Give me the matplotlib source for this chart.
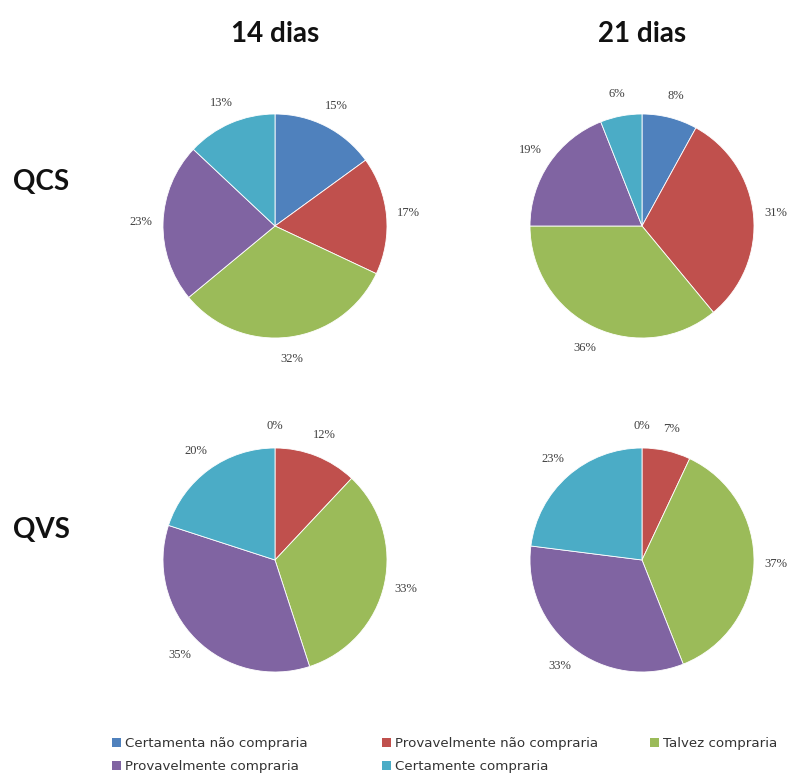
import matplotlib
matplotlib.use("Agg")
import matplotlib.pyplot as plt
from matplotlib.patches import Patch

# Purchase-intention categories and their colours
categories = ["Certamenta não compraria", "Provavelmente não compraria",
              "Talvez compraria", "Provavelmente compraria", "Certamente compraria"]
colors = ["#4F81BD", "#C0504D", "#9BBB59", "#8064A2", "#4BACC6"]

col_titles = ["14 dias", "21 dias"]
row_titles = ["QCS", "QVS"]

# Percent of responses per category
qcs_14 = [15, 17, 32, 23, 13]
qcs_21 = [8, 31, 36, 19, 6]
qvs_14 = [0, 12, 33, 35, 20]
qvs_21 = [0, 7, 37, 33, 23]

W, H = 807, 780
fig = plt.figure(figsize=(W / 100, H / 100), dpi=100)
fig.patch.set_facecolor("white")

R_PX = 112          # pie radius in pixels
LIM = 1.35          # axis half-range in pie-radius units
centers = {(0, 0): (275, 226), (0, 1): (642, 226),
           (1, 0): (275, 560), (1, 1): (642, 560)}
data = {(0, 0): qcs_14, (0, 1): qcs_21, (1, 0): qvs_14, (1, 1): qvs_21}

side = 2 * LIM * R_PX
for key, vals in data.items():
    cx, cy = centers[key]
    ax = fig.add_axes([(cx - side / 2) / W, 1 - (cy + side / 2) / H, side / W, side / H])
    wedges, texts = ax.pie(vals, colors=colors, startangle=90, counterclock=False,
                           labels=[f"{v}%" for v in vals], labeldistance=1.2,
                           wedgeprops=dict(linewidth=0.6, edgecolor="white"),
                           textprops=dict(fontsize=9, color="#404040",
                                          family="Liberation Serif"))
    for t in texts:
        t.set_horizontalalignment("center")
        t.set_verticalalignment("center")
    ax.set_xlim(-LIM, LIM)
    ax.set_ylim(-LIM, LIM)
    ax.set_aspect("equal")
    ax.axis("off")

# Column and row headings
for j, txt in enumerate(col_titles):
    fig.text(centers[(0, j)][0] / W, 1 - 34 / H, txt, ha="center", va="center",
             fontsize=20, fontweight="bold", family="Lato", color="#111111")
for i, (txt, y) in enumerate(zip(row_titles, [182, 530])):
    fig.text(41 / W, 1 - y / H, txt, ha="center", va="center",
             fontsize=20, fontweight="bold", family="Lato", color="#111111")

# Legend at the bottom: equal-width columns, filled row by row
legend_cols = [[0, 3], [1, 4], [2]]
col_x = [112, 382, 650]
for xs, idx in zip(col_x, legend_cols):
    handles = [Patch(facecolor=colors[k], edgecolor="none") for k in idx]
    labels = [categories[k] for k in idx]
    leg = fig.legend(handles, labels, loc="upper left",
                     bbox_to_anchor=(xs / W, 1 - 737 / H), frameon=False,
                     handlelength=0.65, handleheight=0.65, handletextpad=0.3,
                     labelspacing=0.75, borderaxespad=0, borderpad=0,
                     prop=dict(family="DejaVu Sans", size=9.6))
    for t in leg.get_texts():
        t.set_color("#333333")

fig.savefig("out.png", dpi=100, facecolor="white")
